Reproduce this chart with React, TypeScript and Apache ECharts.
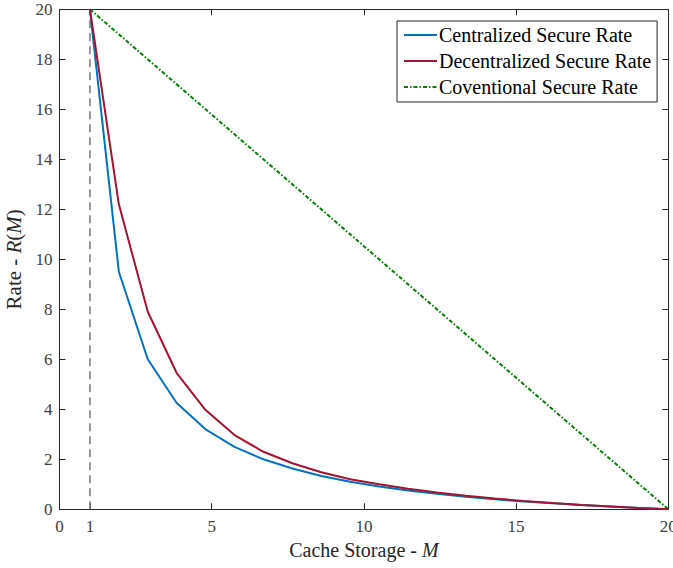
import React, { useEffect, useRef } from "react";
import * as echarts from "echarts";

const cacheM = [1, 1.95, 2.9, 3.85, 4.8, 5.75, 6.7, 7.65, 8.6, 9.55, 10.5, 11.45, 12.4, 13.35, 14.3, 15.25, 16.2, 17.15, 18.1, 19.05, 20];
const centralized = [20, 9.5, 6.0, 4.25, 3.2, 2.5, 2.0, 1.63, 1.33, 1.1, 0.91, 0.75, 0.62, 0.5, 0.4, 0.31, 0.24, 0.17, 0.11, 0.05, 0];
const decentralized = [20, 12.2, 7.9, 5.45, 3.97, 2.97, 2.3, 1.84, 1.48, 1.2, 1.0, 0.82, 0.67, 0.54, 0.43, 0.33, 0.25, 0.17, 0.11, 0.05, 0];
const conventionalM = [1, 20];
const conventional = [20, 0];
const xTicks = [0, 1, 5, 10, 15, 20];
const seriesNames = ["Centralized Secure Rate", "Decentralized Secure Rate", "Coventional Secure Rate"];

const FONT = "Liberation Serif";
const AXIS = "#262626";

export default function App() {
  const ref = useRef<HTMLDivElement>(null);
  useEffect(() => {
    if (!ref.current) return;
    const chart = echarts.init(ref.current, null, { renderer: "svg" });
    const zip = (xs: number[], ys: number[]) => xs.map((x, i) => [x, ys[i]]);
    const rich = {
      a: { fontFamily: FONT, fontSize: 20, color: "#262626" },
      i: { fontFamily: FONT, fontSize: 20, color: "#262626", fontStyle: "italic" as const },
    };
    const richY = {
      a: { fontFamily: FONT, fontSize: 21, color: "#262626" },
      i: { fontFamily: FONT, fontSize: 21, color: "#262626", fontStyle: "italic" as const },
    };
    chart.setOption({
      animation: false,
      textStyle: { fontFamily: FONT },
      grid: { left: 59.5, top: 9.3, right: 4.7, bottom: 58.7, containLabel: false, outerBoundsMode: "none" },
      legend: {
        orient: "vertical",
        left: 397,
        top: 21,
        data: seriesNames,
        backgroundColor: "#fff",
        borderColor: AXIS,
        borderWidth: 1,
        borderRadius: 0,
        padding: [4, 6, 5, 6],
        itemWidth: 33,
        itemHeight: 14,
        itemGap: 6,
        itemStyle: { opacity: 0, borderWidth: 0 },
        textStyle: { fontFamily: FONT, fontSize: 20, color: "#000", padding: [0, 0, 0, -3] },
      },
      xAxis: [
        {
          type: "value",
          min: 0,
          max: 20,
          position: "bottom",
          name: "{a|Cache Storage - }{i|M}",
          nameLocation: "middle",
          nameGap: 31,
          nameTextStyle: { fontFamily: FONT, rich },
          axisLine: { onZero: false, lineStyle: { color: AXIS, width: 1 } },
          axisTick: { inside: true, length: 6, customValues: xTicks, lineStyle: { color: AXIS } },
          axisLabel: { customValues: xTicks, fontFamily: FONT, fontSize: 17, color: "#404040", margin: 9 },
          splitLine: { show: false },
        },
        {
          type: "value",
          min: 0,
          max: 20,
          position: "top",
          axisLine: { onZero: false, lineStyle: { color: AXIS, width: 1 } },
          axisTick: { inside: true, length: 6, customValues: xTicks, lineStyle: { color: AXIS } },
          axisLabel: { show: false },
          splitLine: { show: false },
        },
      ],
      yAxis: [
        {
          type: "value",
          min: 0,
          max: 20,
          interval: 2,
          position: "left",
          name: "{a|Rate - }{i|R}{a|(}{i|M}{a|)}",
          nameLocation: "middle",
          nameGap: 18,
          nameRotate: 90,
          nameTextStyle: { fontFamily: FONT, rich: richY },
          axisLine: { onZero: false, lineStyle: { color: AXIS, width: 1 } },
          axisTick: { inside: true, length: 6, lineStyle: { color: AXIS } },
          axisLabel: { fontFamily: FONT, fontSize: 17, color: "#404040", margin: 7 },
          splitLine: { show: false },
        },
        {
          type: "value",
          min: 0,
          max: 20,
          interval: 2,
          position: "right",
          axisLine: { onZero: false, lineStyle: { color: AXIS, width: 1 } },
          axisTick: { inside: true, length: 6, lineStyle: { color: AXIS } },
          axisLabel: { show: false },
          splitLine: { show: false },
        },
      ],
      series: [
        {
          name: "M=1 marker",
          type: "line",
          data: [[1, 0], [1, 20]],
          symbol: "none",
          lineStyle: { color: "#7f7f7f", width: 1.6, type: [8, 5] },
          silent: true,
          z: 1,
        },
        {
          name: seriesNames[0],
          type: "line",
          data: zip(cacheM, centralized),
          symbol: "none",
          color: "#0072BD",
          lineStyle: { color: "#0072BD", width: 2 },
          z: 3,
        },
        {
          name: seriesNames[1],
          type: "line",
          data: zip(cacheM, decentralized),
          symbol: "none",
          color: "#A2142F",
          lineStyle: { color: "#A2142F", width: 2 },
          z: 4,
        },
        {
          name: seriesNames[2],
          type: "line",
          data: zip(conventionalM, conventional),
          symbol: "none",
          color: "#008000",
          lineStyle: { color: "#008000", width: 2, type: [4, 2, 1.5, 2] },
          z: 2,
        },
      ],
    });
    return () => chart.dispose();
  }, []);
  return (
    <div
      ref={ref}
      style={{ position: "fixed", left: 0, top: 0, width: 673, height: 568, background: "#fff" }}
    />
  );
}
